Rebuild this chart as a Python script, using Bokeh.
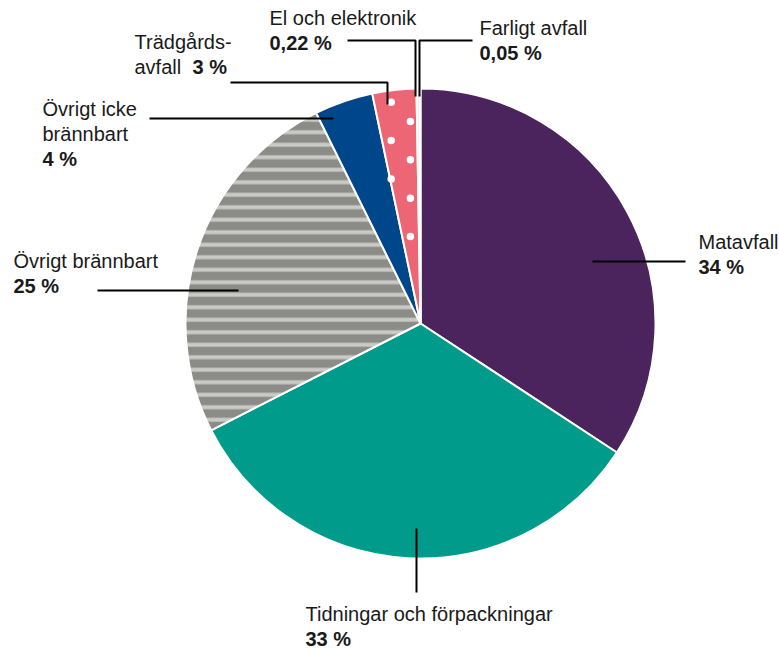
import math
from bokeh.plotting import figure
from bokeh.models import ColumnDataSource, Range1d
from bokeh.core.properties import value
from bokeh.embed import file_html
from bokeh.resources import INLINE

# ---------------- data ----------------
categories = ["Matavfall", "Tidningar och förpackningar", "Övrigt brännbart",
              "Övrigt icke brännbart", "Trädgårdsavfall", "El och elektronik",
              "Farligt avfall"]
values = [34, 33, 25, 4, 3, 0.22, 0.05]
value_labels = ["34 %", "33 %", "25 %", "4 %", "3 %", "0,22 %", "0,05 %"]
label_lines = [["Matavfall"], ["Tidningar och förpackningar"], ["Övrigt brännbart"],
               ["Övrigt icke", "brännbart"], ["Trädgårds-", "avfall"],
               ["El och elektronik"], ["Farligt avfall"]]

# ---------------- style / layout ----------------
colors = ["#4b245d", "#009b8a", "#8b8b87", "#00468b", "#ec6676", "#e6e6e6", "#f4f4f4"]
hatch_patterns = [" ", " ", "-", " ", " ", " ", " "]
hatch_colors = ["white", "white", "#c9c9c6", "white", "white", "white", "white"]
hatch_scales = [12, 12, 12.5, 12, 12, 12, 12]
hatch_weights = [1, 1, 4, 1, 1, 1, 1]
DOTTED = 4          # index of slice with white dot pattern
DOT_STEP = 19.2     # px between dot rows / columns (staggered)
DOT_ORIGIN = (390.7, 101.7)

W, H = 779, 650
def X(x):  # page px -> data
    return x
def Y(y):
    return H - y

CX, CY, R = X(420), Y(323), 235
FONT = "Liberation Sans"
FS = "20px"
GAP = 25
TEXT_SHIFT = -7

label_pos = [(698, 248), (305, 620), (13, 267), (42, 115), (134, 48), (269, 24), (479, 34)]
inline_pct_x = {4: 192}
leaders = [
    [(592, 261), (685, 261)],
    [(416, 528), (416, 592)],
    [(97, 290), (238, 290)],
    [(149, 118), (333, 118)],
    [(230, 82), (387, 82), (387, 104)],
    [(347, 40), (415, 40), (415, 96)],
    [(472, 40), (419, 40), (419, 96)],
]

# ---------------- figure ----------------
p = figure(width=W, height=H, x_range=Range1d(0, W), y_range=Range1d(0, H),
           x_axis_type=None, y_axis_type=None, toolbar_location=None,
           output_backend="svg", min_border=0, outline_line_color=None,
           background_fill_color="white", border_fill_color="white")
p.grid.visible = False

total = sum(values)
starts, ends = [], []
cum = 0.0
for v in values:
    starts.append(math.pi / 2 - 2 * math.pi * cum / total)
    cum += v
    ends.append(math.pi / 2 - 2 * math.pi * cum / total)

src = ColumnDataSource(dict(cat=categories, val=values, start=starts, end=ends,
                            color=colors, hp=hatch_patterns, hc=hatch_colors,
                            hs=hatch_scales, hw=hatch_weights))

p.wedge(x=CX, y=CY, radius=R, start_angle="start", end_angle="end",
        direction="clock", source=src, fill_color="color",
        line_color="white", line_width=2,
        hatch_pattern="hp", hatch_color="hc", hatch_scale="hs",
        hatch_weight="hw")

# staggered white dot texture inside the dotted slice (derived from its angles)
a_hi, a_lo = starts[DOTTED], ends[DOTTED]
dx_, dy_ = [], []
ox, oy = DOT_ORIGIN
for i in range(-30, 30):
    for j in range(-30, 30):
        if (i + j) % 2:
            continue
        px, py = X(ox + i * DOT_STEP), Y(oy + j * DOT_STEP)
        rr = math.hypot(px - CX, py - CY)
        if rr > R - 2 or rr < 8:
            continue
        ang = math.atan2(py - CY, px - CX)
        while ang < a_lo:
            ang += 2 * math.pi
        while ang >= a_lo + 2 * math.pi:
            ang -= 2 * math.pi
        m = 1.0 / rr
        if a_lo + m < ang < a_hi - m:
            dx_.append(px); dy_.append(py)
p.scatter(x=dx_, y=dy_, marker="circle", size=7.5, fill_color="white", line_color=None)

# leader lines
p.multi_line(xs=[[X(a) for a, b in L] for L in leaders],
             ys=[[Y(b) for a, b in L] for L in leaders],
             line_color="black", line_width=2)

# labels
nx, ny, nt = [], [], []
bx, by, bt = [], [], []
for i, lines in enumerate(label_lines):
    lx, ly = label_pos[i]
    ly += TEXT_SHIFT
    for j, t in enumerate(lines):
        nx.append(X(lx)); ny.append(Y(ly + j * GAP)); nt.append(t)
    if i in inline_pct_x:
        bx.append(X(inline_pct_x[i])); by.append(Y(ly + (len(lines) - 1) * GAP))
    else:
        bx.append(X(lx)); by.append(Y(ly + len(lines) * GAP))
    bt.append(value_labels[i])

p.text(x=nx, y=ny, text=nt, text_font=value(FONT), text_font_size=FS,
       text_color="#1a1a1a", text_baseline="alphabetic", text_align="left")
p.text(x=bx, y=by, text=bt, text_font=value(FONT), text_font_size=FS,
       text_font_style="bold", text_color="#1a1a1a",
       text_baseline="alphabetic", text_align="left")

open("out.html", "w").write(file_html(p, INLINE))
